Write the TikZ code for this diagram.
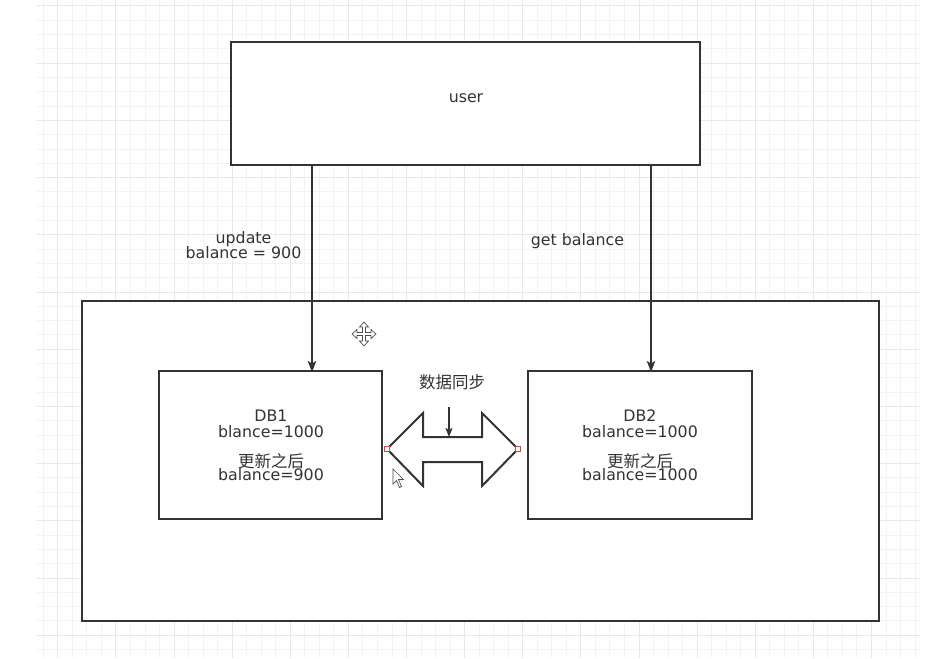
\documentclass[tikz,border=0pt]{standalone}
\usepackage{fontspec}
\setmainfont{DejaVu Sans}
\newfontfamily\cjk{Noto Sans CJK SC}
\usetikzlibrary{arrows.meta}
\definecolor{ink}{HTML}{333333}
\definecolor{txt}{HTML}{333333}
\definecolor{gridminor}{HTML}{F3F3F3}
\definecolor{gridmajor}{HTML}{E8E8E8}
\definecolor{port}{HTML}{B85450}
\begin{document}
\begin{tikzpicture}[x=1pt,y=-1pt,
  box/.style={draw=ink, line width=2, fill=white, inner sep=0, outer sep=0, anchor=north west},
  lbl/.style={text=txt, inner sep=0, font=\fontsize{15.8}{16}\selectfont},
  cjklbl/.style={text=txt, inner sep=0, font=\cjk\fontsize{16.5}{17}\selectfont},
  conn/.style={draw=ink, line width=1.6, -{Stealth[length=11, width=8.5, inset=2.5]}},
  smallconn/.style={draw=ink, line width=1.6, -{Stealth[length=9, width=7, inset=2]}},
  portmark/.style={draw=port, fill=white, line width=0.8, minimum size=5, inner sep=0},
  syncshape/.style={draw=ink, line width=2, fill=white, line join=miter},
  icon/.style={draw=black!70, fill=white, line width=0.7, line join=miter}
]
\useasboundingbox (0,0) rectangle (944,658);
\fill[white] (0,0) rectangle (944,658);

% canvas grid
\foreach \i in {0,...,60}
  \draw[gridminor, line width=1] ({43.3+14.53*\i},0) -- ({43.3+14.53*\i},658);
\foreach \j in {0,...,45}
  \draw[gridminor, line width=1] (37,{6+14.3*\j}) -- (920,{6+14.3*\j});
\foreach \i in {1,5,...,57}
  \draw[gridmajor, line width=1] ({43.3+14.53*\i},0) -- ({43.3+14.53*\i},658);
\foreach \j in {0,4,...,44}
  \draw[gridmajor, line width=1] (37,{6+14.3*\j}) -- (920,{6+14.3*\j});

% boxes
\node[box, minimum width=469, minimum height=123] (user) at (231,42) {};
\node[lbl] (usertxt) at (466,98) {user};
\node[box, minimum width=797, minimum height=320] (outer) at (82,301) {};
\node[box, minimum width=223, minimum height=148] (db1) at (159,371) {};
\node[box, minimum width=224, minimum height=148] (db2) at (528,371) {};

% contents of DB1
\node[lbl] (db1name) at (271,416) {DB1};
\node[lbl] (db1old) at (271,432) {blance=1000};
\node[cjklbl] (db1after) at (271,461) {更新之后};
\node[lbl] (db1new) at (271,475) {balance=900};

% contents of DB2
\node[lbl] (db2name) at (640,416) {DB2};
\node[lbl] (db2old) at (640,432) {balance=1000};
\node[cjklbl] (db2after) at (640,461) {更新之后};
\node[lbl] (db2new) at (640,475) {balance=1000};

% requests from the user
\coordinate (a1) at ([xshift=81]user.south west);
\coordinate (a2) at ([xshift=-49]user.south east);
\draw[conn] (a1) -- ([yshift=-1]a1 |- db1.north);
\draw[conn] (a2) -- ([yshift=-1]a2 |- db2.north);
\node[lbl, align=center] (updlbl) at (243.5,245.5) {update\\[-1pt]balance = 900};
\node[lbl] (getlbl) at (577.5,241) {get balance};

% synchronisation double arrow
\coordinate (syncL) at (387,449);
\coordinate (syncR) at (518,449);
\coordinate (shaftTop) at (423,437);
\draw[syncshape] (syncL) -- (423,413) -- (shaftTop) -- (482,437) -- (482,413)
  -- (syncR) -- (482,486) -- (482,462) -- (423,462) -- (423,486) -- cycle;
\node[portmark] (portL) at (syncL) {};
\node[portmark] (portR) at (syncR) {};
\node[cjklbl] (synclbl) at (452,382) {数据同步};
\coordinate (syncIn) at (449,407);
\draw[smallconn] (syncIn) -- (syncIn |- shaftTop);

% move handle
\begin{scope}[shift={(364,334)}]
  \draw[icon] (-1.5,-7) -- (-4.5,-7) -- (0,-12) -- (4.5,-7) -- (1.5,-7) -- (1.5,-1.5)
    -- (7,-1.5) -- (7,-4.5) -- (12,0) -- (7,4.5) -- (7,1.5) -- (1.5,1.5)
    -- (1.5,7) -- (4.5,7) -- (0,12) -- (-4.5,7) -- (-1.5,7) -- (-1.5,1.5)
    -- (-7,1.5) -- (-7,4.5) -- (-12,0) -- (-7,-4.5) -- (-7,-1.5) -- (-1.5,-1.5) -- cycle;
\end{scope}

% pointer
\begin{scope}[shift={(393,469)}]
  \draw[icon] (0,0) -- (0,15) -- (3.5,11.5) -- (6.5,18.5) -- (8.5,17.5) -- (5.5,10.5)
    -- (10.5,10.5) -- cycle;
\end{scope}
\end{tikzpicture}
\end{document}
